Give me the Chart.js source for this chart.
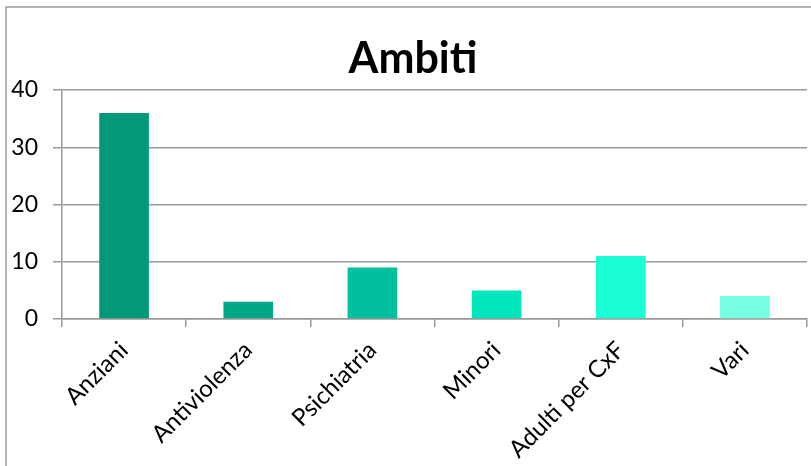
<!DOCTYPE html>
<html>
<head>
<meta charset="utf-8">
<title>Ambiti</title>
<script src="https://cdn.jsdelivr.net/npm/chart.js@4/dist/chart.umd.min.js"></script>
<style>
    html, body {
        margin: 0;
        padding: 0;
        background: #ffffff;
        overflow: hidden;
    }
    canvas {
        display: block;
    }
</style>
</head>
<body>
<canvas id="ambitiChart" width="811" height="466"></canvas>
<script>
const categories = ['Anziani', 'Antiviolenza', 'Psichiatria', 'Minori', 'Adulti per CxF', 'Vari'];
const counts = [36, 3, 9, 5, 11, 4];
const barColors = ['#029878', '#00a887', '#00c09e', '#00e6bc', '#1affd5', '#76ffe2'];
const yTicks = [0, 10, 20, 30, 40];
const chartTitle = 'Ambiti';

const axisGray = '#9a9a9a';
const fontFamily = 'Lato, "Open Sans", sans-serif';

// frame around the whole chart (left and top edges show) and the title,
// which sits centred on the full frame rather than on the plot area
const framePlugin = {
    id: 'frame',
    beforeDraw(chart) {
        const ctx = chart.ctx;
        ctx.save();
        ctx.strokeStyle = axisGray;
        ctx.lineWidth = 1.5;
        ctx.beginPath();
        ctx.moveTo(6, chart.height);
        ctx.lineTo(6, 7);
        ctx.lineTo(chart.width, 7);
        ctx.stroke();

        ctx.fillStyle = '#000000';
        ctx.font = 'bold 43px ' + fontFamily;
        ctx.textAlign = 'center';
        ctx.textBaseline = 'alphabetic';
        ctx.fillText(chartTitle, 413, 73);
        ctx.restore();
    }
};

const ctx = document.getElementById('ambitiChart').getContext('2d');
const ambitiChart = new Chart(ctx, {
    type: 'bar',
    data: {
        labels: categories,
        datasets: [{
            label: chartTitle,
            data: counts,
            backgroundColor: barColors,
            borderWidth: 0,
            categoryPercentage: 1,
            barPercentage: 0.4
        }]
    },
    options: {
        responsive: false,
        animation: false,
        layout: {
            padding: {
                top: 90,
                bottom: 0,
                left: 0,
                right: 4
            }
        },
        plugins: {
            legend: {
                display: false
            },
            tooltip: {
                enabled: false
            },
            title: {
                display: false
            }
        },
        scales: {
            x: {
                grid: {
                    display: true,
                    offset: true,
                    drawOnChartArea: false,
                    drawTicks: true,
                    tickLength: 8,
                    color: axisGray,
                    lineWidth: 1.5
                },
                border: {
                    display: true,
                    color: axisGray,
                    width: 1.5
                },
                ticks: {
                    color: '#000000',
                    autoSkip: false,
                    minRotation: 45,
                    maxRotation: 45,
                    padding: 9,
                    font: {
                        family: fontFamily,
                        size: 24
                    }
                },
                afterFit(scale) {
                    scale.height = 147;
                }
            },
            y: {
                min: 0,
                max: 40,
                afterBuildTicks(scale) {
                    scale.ticks = yTicks.map(v => ({ value: v }));
                },
                grid: {
                    display: true,
                    drawTicks: true,
                    tickLength: 9,
                    color: axisGray,
                    lineWidth: 1.5
                },
                border: {
                    display: true,
                    color: axisGray,
                    width: 1.5
                },
                ticks: {
                    color: '#000000',
                    padding: 15,
                    font: {
                        family: fontFamily,
                        size: 23
                    }
                },
                afterFit(scale) {
                    scale.width = 62;
                }
            }
        }
    },
    plugins: [framePlugin]
});
</script>
</body>
</html>
